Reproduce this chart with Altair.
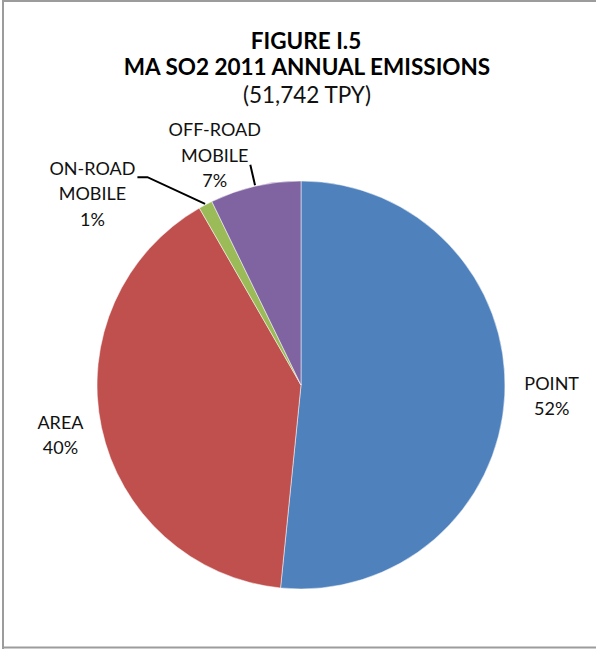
import altair as alt
import pandas as pd
import numpy as np

# ---- data ----
categories = ["POINT", "AREA", "ON-ROAD MOBILE", "OFF-ROAD MOBILE"]
shares = [51.6, 40.1, 1.1, 7.2]
label_names = ["POINT", "AREA", "ON-ROAD\nMOBILE", "OFF-ROAD\nMOBILE"]
label_pcts = ["52%", "40%", "1%", "7%"]
colors = ["#4F81BD", "#C0504D", "#9BBB59", "#8064A2"]
title_lines = ["FIGURE I.5", "MA SO2 2011 ANNUAL EMISSIONS"]
subtitle = "(51,742 TPY)"

# ---- layout ----
W, H = 596, 649
CX, CY, R = 301, 385, 204
FONT = "Lato"
LH = 25.5
# label placement (block centre): radius and (optional) angle in degrees; None -> slice mid-angle
label_polar = {
    "POINT": (251, None),
    "AREA": (246, None),
    "ON-ROAD MOBILE": (282, 312.3),
    "OFF-ROAD MOBILE": (244, 339.3),
}

df = pd.DataFrame({
    "category": categories,
    "share": shares,
    "order": list(range(len(categories))),
    "label": [n + "\n" + p for n, p in zip(label_names, label_pcts)],
})
total = df["share"].sum()
cum = df["share"].cumsum()
df["mid"] = (cum - df["share"] / 2) / total * 2 * np.pi

lx, ly, cyl = [], [], []
for cat, mid, lab in zip(df["category"], df["mid"], df["label"]):
    r, ang = label_polar[cat]
    t = mid if ang is None else np.deg2rad(ang)
    n = lab.count("\n") + 1
    x = CX + r * np.sin(t)
    yc = CY - r * np.cos(t)
    lx.append(x)
    cyl.append(yc)
    ly.append(yc - (n - 1) * LH / 2)  # first-line position
df["lx"] = lx
df["ly"] = ly

# leader lines
rows = []
mids = dict(zip(df["category"], df["mid"]))
labpos = dict(zip(df["category"], zip(lx, cyl)))
m = mids["ON-ROAD MOBILE"]
px, py = labpos["ON-ROAD MOBILE"]
rows += [
    {"cat": "on", "seq": 0, "x": CX + (R + 1) * np.sin(m), "y": CY - (R + 1) * np.cos(m)},
    {"cat": "on", "seq": 1, "x": px + 55, "y": py - 18},
    {"cat": "on", "seq": 2, "x": px + 45, "y": py - 18},
]
m = mids["OFF-ROAD MOBILE"]
rows += [
    {"cat": "off", "seq": 0, "x": CX + (R + 1) * np.sin(m), "y": CY - (R + 1) * np.cos(m)},
    {"cat": "off", "seq": 1, "x": CX + (R + 22) * np.sin(m), "y": CY - (R + 22) * np.cos(m)},
]
leaders = pd.DataFrame(rows)

pie = alt.Chart(df).mark_arc(radius=R, stroke="white", strokeWidth=0.5).encode(
    theta=alt.Theta("share:Q", stack=True),
    order=alt.Order("order:Q"),
    color=alt.Color("category:N", scale=alt.Scale(domain=categories, range=colors), legend=None),
    x=alt.value(CX),
    y=alt.value(CY),
)

labels = alt.Chart(df).mark_text(
    font=FONT, fontSize=18, lineBreak="\n", lineHeight=LH, align="center", baseline="middle", color="#111111"
).encode(
    x=alt.X("lx:Q", scale=None),
    y=alt.Y("ly:Q", scale=None),
    text="label:N",
)

lead = alt.Chart(leaders).mark_line(color="black", strokeWidth=2).encode(
    x=alt.X("x:Q", scale=None),
    y=alt.Y("y:Q", scale=None),
    detail="cat:N",
    order="seq:Q",
)

one = pd.DataFrame({"a": [0]})
t1 = alt.Chart(one).mark_text(font=FONT, fontSize=22.5, fontWeight="bold", color="black").encode(
    x=alt.value(306), y=alt.value(42), text=alt.value(title_lines[0]))
t2 = alt.Chart(one).mark_text(font=FONT, fontSize=22.5, fontWeight="bold", color="black").encode(
    x=alt.value(307), y=alt.value(68), text=alt.value(title_lines[1]))
t3 = alt.Chart(one).mark_text(font=FONT, fontSize=22.5, color="#111111").encode(
    x=alt.value(307), y=alt.value(96), text=alt.value(subtitle))

frame_col = "#9c9c9c"
f1 = alt.Chart(one).mark_rule(color=frame_col, strokeWidth=2).encode(
    x=alt.value(3), x2=alt.value(3), y=alt.value(0), y2=alt.value(649))
f2 = alt.Chart(one).mark_rule(color=frame_col, strokeWidth=2).encode(
    x=alt.value(2), x2=alt.value(596), y=alt.value(1), y2=alt.value(1))
f3 = alt.Chart(one).mark_rule(color=frame_col, strokeWidth=2).encode(
    x=alt.value(2), x2=alt.value(596), y=alt.value(647.5), y2=alt.value(647.5))

chart = alt.layer(pie, lead, labels, t1, t2, t3, f1, f2, f3).properties(
    width=W, height=H, padding=0, autosize="none", background="white"
).configure_view(stroke=None)

chart.save("out.html", embed_options={"renderer": "svg", "actions": False})
